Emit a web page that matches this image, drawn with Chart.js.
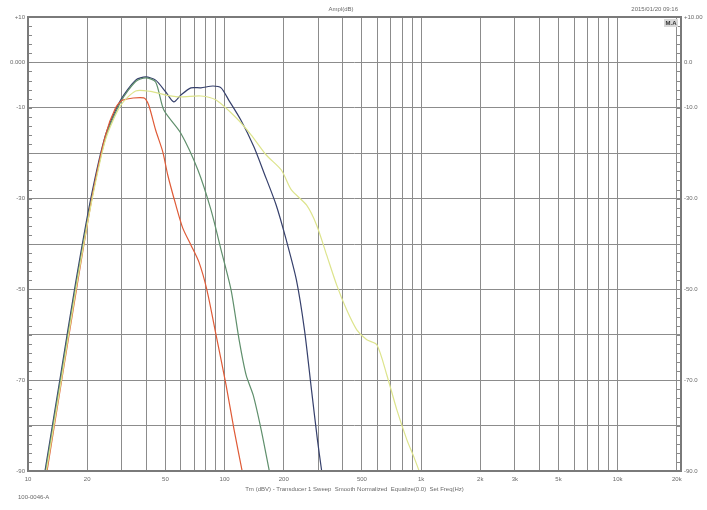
<!DOCTYPE html>
<html>
<head>
<meta charset="utf-8">
<script src="https://cdn.jsdelivr.net/npm/chart.js@4/dist/chart.umd.min.js"></script>
<style>
body{margin:0;background:#fff}
canvas{display:block}
</style>
</head>
<body>
<canvas id="chart-1" width="707" height="510"></canvas>
<script>
// grid + labels
const gridFreqs = [10,20,30,40,50,60,70,80,90,100,200,300,400,500,600,700,800,900,
  1000,2000,3000,4000,5000,6000,7000,8000,9000,10000,20000];
const xTickFreqs = [10,20,50,100,200,500,1000,2000,3000,5000,10000,20000];
const xTickNames = ['10','20','50','100','200','500','1k','2k','3k','5k','10k','20k'];
const yLeftValues = [10,0,-10,-30,-50,-70,-90];
const yLeftNames = ['+10','0.000','-10','-30','-50','-70','-90'];
const yRightNames = ['+10.00','0.0','-10.0','-30.0','-50.0','-70.0','-90.0'];

// series (Hz, dB)
const navyFreq = [12.2,14.6,17.4,20.8,24.8,29.6,35.3,39.7,44.6,50.2,55.2,59.9,67.4,75.8,87.3,96,105,121,141,159,183,206,232,255,277,297,312];
const navyLevel = [-90,-69.3,-49,-30.3,-16,-8.3,-3.9,-3.2,-3.9,-6.5,-8.7,-7.2,-5.6,-5.6,-5.2,-5.6,-8.3,-12.7,-18.6,-24.4,-31.4,-39.1,-47.9,-58.9,-72.2,-83.2,-90];

const greenFreq = [12.3,14.7,17.5,20.9,24.9,29.7,35.3,39.7,44.6,49.1,59.9,73.2,85.3,96,107.9,118.6,128.8,139.9,153.7,168.9];
const greenLevel = [-90,-69.5,-49.4,-30.8,-16.4,-8.6,-4.2,-3.4,-4.3,-10.5,-15.6,-23.7,-32.5,-41.3,-50.1,-61.1,-68.9,-73.3,-81,-90];

const redFreq = [12.5,14.9,17.8,21.3,24.8,27.9,30.3,38.8,41.1,44.6,48.5,51.4,56.5,61.3,67.4,74.1,81.3,90.5,101.8,111.9,122.9];
const redLevel = [-90,-69.5,-49,-29.2,-16,-10,-8.3,-7.8,-9.4,-14.9,-19.7,-24.8,-31.4,-36.5,-40.2,-44,-50.1,-60,-71.1,-81,-90];

const yellowFreq = [12.4,14.8,17.6,21,24.8,29.6,35.3,42.1,50.2,59.9,75.8,90.5,114.5,136.7,163,194.5,218.8,261,293.9,330.5,371.7,418,470.6,529.4,595.4,669.7,753.4,847.6,920.6,977];
const yellowLevel = [-90,-69.8,-49.6,-31,-17,-9.5,-6.3,-6.4,-7.2,-7.6,-7.4,-8.3,-12.2,-16,-20.4,-23.7,-28.1,-31.4,-35.8,-42.4,-49,-54.5,-58.9,-61.1,-62.2,-68.9,-76.6,-83.2,-87,-90];

function pts(f, v){ return f.map((x,i)=>({x:x, y:v[i]})); }

const textCol = '#6a6a6a';
const tinyFont = {family:'Liberation Sans', size:6};

const extras = {
  id:'extras',
  afterDraw(chart){
    const c = chart.ctx, a = chart.chartArea, y = chart.scales.y;
    c.save();
    // minor ticks left/right
    c.strokeStyle = '#888';
    c.lineWidth = 1;
    for(let v=-90; v<=10; v+=2){
      const py = Math.round(y.getPixelForValue(v))+0.5;
      c.beginPath();
      c.moveTo(a.left, py); c.lineTo(a.left+4, py);
      c.moveTo(a.right-4, py); c.lineTo(a.right, py);
      c.stroke();
    }
    // frame
    c.strokeStyle = '#7a7a7a';
    c.lineWidth = 2;
    c.strokeRect(a.left, a.top, a.right-a.left, a.bottom-a.top);
    // texts
    c.fillStyle = textCol;
    c.font = '6px "Liberation Sans"';
    c.textAlign = 'center';
    c.textBaseline = 'middle';
    c.fillText('Ampl(dB)', 341, 9);
    c.textAlign = 'right';
    c.fillText('2015/01/20 09:16', 678, 9);
    c.textAlign = 'left';
    c.fillText('100-0046-A', 18, 497);
    // marker box
    c.fillStyle = '#d8d8d8';
    c.fillRect(664, 19, 14, 8);
    c.fillStyle = '#333';
    c.font = 'bold 6px "Liberation Sans"';
    c.textAlign = 'center';
    c.fillText('M.A', 671, 23);
    c.restore();
  }
};

const ds = (label, f, v, color) => ({
  label, data: pts(f, v), borderColor: color, borderWidth: 1.2,
  pointRadius: 0, tension: 0.25, fill: false
});

new Chart(document.getElementById('chart-1'), {
  type: 'line',
  data: {
    datasets: [
      ds('Yellow', yellowFreq, yellowLevel, '#dde48c'),
      ds('Red', redFreq, redLevel, '#df5a36'),
      ds('Green', greenFreq, greenLevel, '#5f8f6c'),
      ds('Navy', navyFreq, navyLevel, '#36406c')
    ]
  },
  options: {
    responsive: false,
    animation: false,
    layout: {padding: {top: 17, left: 0, right: 0, bottom: 0}},
    plugins: {legend: {display: false}, tooltip: {enabled: false}},
    scales: {
      x: {
        type: 'logarithmic',
        min: 10, max: 21000,
        afterBuildTicks: ax => { ax.ticks = gridFreqs.map(v => ({value: v})); },
        afterFit: ax => { ax.height = 39; },
        grid: {color: '#8c8c8c', lineWidth: 1, drawTicks: false},
        border: {display: false},
        ticks: {
          autoSkip: false, maxRotation: 0, padding: 5,
          color: textCol, font: tinyFont,
          callback: v => { const i = xTickFreqs.indexOf(v); return i < 0 ? '' : xTickNames[i]; }
        },
        title: {
          display: true,
          text: 'Trn (dBV) - Transducer 1 Sweep  Smooth Normalized  Equalize(0.0)  Set Freq(Hz)',
          color: textCol, font: tinyFont, padding: {top: 0, bottom: 17}
        }
      },
      y: {
        min: -90, max: 10,
        afterBuildTicks: ax => { ax.ticks = []; for (let v = -90; v <= 10; v += 10) ax.ticks.push({value: v}); },
        afterFit: ax => { ax.width = 28; },
        grid: {color: '#8c8c8c', lineWidth: 1, drawTicks: false},
        border: {display: false},
        ticks: {
          padding: 3, color: textCol, font: tinyFont,
          callback: v => { const i = yLeftValues.indexOf(v); return i < 0 ? '' : yLeftNames[i]; }
        }
      },
      y2: {
        position: 'right',
        min: -90, max: 10,
        afterBuildTicks: ax => { ax.ticks = []; for (let v = -90; v <= 10; v += 10) ax.ticks.push({value: v}); },
        afterFit: ax => { ax.width = 26; },
        grid: {drawOnChartArea: false, drawTicks: false},
        border: {display: false},
        ticks: {
          padding: 3, color: textCol, font: tinyFont,
          callback: v => { const i = yLeftValues.indexOf(v); return i < 0 ? '' : yRightNames[i]; }
        }
      }
    }
  },
  plugins: [extras]
});
</script>
</body>
</html>
